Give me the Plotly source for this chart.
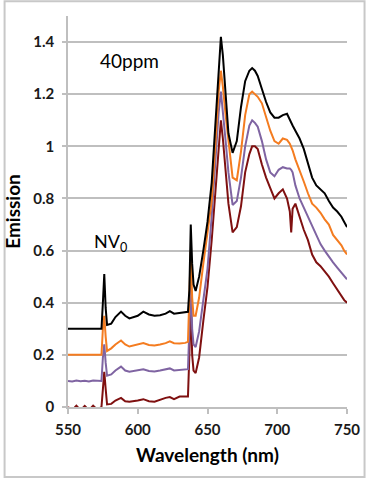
import plotly.graph_objects as go

# wavelength grid (nm)
wavelength = [550, 553, 556, 559, 562, 565, 568, 571, 574, 575, 576, 577,
              578, 581, 584, 588, 591, 594, 597, 600, 604, 608, 612, 616,
              620, 623, 626, 630, 634, 636, 637, 638, 639, 640, 641.5, 644,
              647, 650, 653, 656, 658, 659.6, 661, 663, 665, 668, 671, 674,
              677, 680, 682, 684, 686, 689, 692, 695, 698, 701, 704, 707,
              709, 710, 711, 713, 716, 719, 722, 725, 728, 731, 734, 737,
              740, 743, 746, 748, 750]

black = [0.30, 0.30, 0.30, 0.30, 0.30, 0.30, 0.30, 0.30, 0.30, 0.40, 0.51, 0.38,
         0.315, 0.32, 0.345, 0.366, 0.35, 0.34, 0.345, 0.35, 0.366, 0.355, 0.35, 0.352,
         0.358, 0.368, 0.358, 0.36, 0.362, 0.365, 0.45, 0.70, 0.55, 0.47, 0.445, 0.50,
         0.60, 0.71, 0.86, 1.11, 1.32, 1.42, 1.35, 1.18, 1.05, 0.975, 1.02, 1.15,
         1.25, 1.29, 1.30, 1.29, 1.27, 1.22, 1.17, 1.13, 1.11, 1.11, 1.12, 1.125,
         1.10, 1.09, 1.08, 1.06, 1.03, 0.99, 0.93, 0.88, 0.85, 0.835, 0.82, 0.79,
         0.765, 0.75, 0.73, 0.71, 0.69]

orange = [0.20, 0.20, 0.20, 0.20, 0.20, 0.20, 0.20, 0.20, 0.20, 0.30, 0.35, 0.27,
          0.215, 0.225, 0.24, 0.255, 0.24, 0.232, 0.236, 0.24, 0.245, 0.238, 0.236, 0.24,
          0.245, 0.252, 0.245, 0.244, 0.246, 0.25, 0.40, 0.60, 0.42, 0.35, 0.35, 0.42,
          0.55, 0.66, 0.79, 1.04, 1.21, 1.29, 1.23, 1.12, 1.02, 0.88, 0.87, 0.98,
          1.12, 1.20, 1.21, 1.20, 1.19, 1.165, 1.11, 1.06, 1.02, 1.01, 1.03, 1.025,
          1.01, 1.00, 0.985, 0.95, 0.91, 0.865, 0.82, 0.78, 0.765, 0.745, 0.72, 0.70,
          0.66, 0.64, 0.62, 0.60, 0.585]

purple = [0.10, 0.098, 0.102, 0.099, 0.101, 0.098, 0.102, 0.10, 0.10, 0.19, 0.24, 0.17,
          0.12, 0.125, 0.14, 0.155, 0.14, 0.135, 0.138, 0.142, 0.145, 0.138, 0.136, 0.14,
          0.143, 0.148, 0.14, 0.143, 0.145, 0.145, 0.30, 0.50, 0.30, 0.24, 0.23, 0.29,
          0.41, 0.53, 0.73, 0.97, 1.13, 1.21, 1.14, 1.02, 0.90, 0.775, 0.79, 0.88,
          1.00, 1.08, 1.10, 1.09, 1.075, 1.02, 0.95, 0.90, 0.885, 0.91, 0.92, 0.915,
          0.915, 0.91, 0.90, 0.85, 0.80, 0.765, 0.73, 0.69, 0.66, 0.625, 0.60, 0.575,
          0.555, 0.535, 0.515, 0.50, 0.49]

darkred = [0.0, -0.012, 0.005, -0.012, 0.004, -0.012, 0.005, -0.01, 0.0, 0.09, 0.135, 0.07,
           0.01, 0.012, 0.025, 0.035, 0.022, 0.02, 0.022, 0.025, 0.03, 0.022, 0.02, 0.028,
           0.035, 0.038, 0.03, 0.04, 0.04, 0.04, 0.20, 0.42, 0.20, 0.14, 0.13, 0.19,
           0.33, 0.46, 0.64, 0.85, 1.01, 1.10, 1.03, 0.90, 0.78, 0.67, 0.69, 0.77,
           0.90, 0.97, 1.00, 1.00, 0.99, 0.93, 0.88, 0.84, 0.80, 0.82, 0.835, 0.80,
           0.75, 0.67, 0.76, 0.78, 0.73, 0.68, 0.64, 0.585, 0.555, 0.54, 0.52, 0.50,
           0.475, 0.45, 0.43, 0.41, 0.40]

y_ticks = [0, 0.2, 0.4, 0.6, 0.8, 1.0, 1.2, 1.4]
x_ticks = [550, 600, 650, 700, 750]

# drawn bottom-up so black ends on top
series = [
    ("darkred", darkred, "#7f1010"),
    ("purple", purple, "#7f64a2"),
    ("orange", orange, "#f47c20"),
    ("black", black, "#000000"),
]

fig = go.Figure()
for name, vals, col in series:
    fig.add_trace(go.Scatter(x=wavelength, y=vals, mode="lines", name=name,
                             line=dict(color=col, width=2), showlegend=False))

grid = "#bfbfbf"
tick_font = dict(family="Lato", size=15, color="#1a1a1a", weight="bold")
title_font = dict(family="Lato", size=19, color="#000", weight="bold")

fig.update_xaxes(range=[550, 750], tickvals=x_ticks, showgrid=False,
                 showline=True, linecolor=grid, linewidth=1.5,
                 ticks="outside", ticklen=5, tickcolor=grid, tickwidth=1.5,
                 zeroline=False, tickfont=tick_font, ticklabelstandoff=3,
                 title=dict(text="Wavelength (nm)", standoff=12, font=title_font))
fig.update_yaxes(range=[0, 1.5], tickvals=y_ticks, showgrid=True, gridcolor=grid,
                 gridwidth=1.5, showline=True, linecolor=grid, linewidth=1.5,
                 ticks="outside", ticklen=4, tickcolor=grid, tickwidth=1.5,
                 zeroline=False, tickfont=tick_font, ticklabelstandoff=5,
                 title=dict(text="Emission", standoff=8, font=title_font))

fig.add_annotation(x=594, y=1.33, text="40ppm", showarrow=False,
                   font=dict(family="Lato", size=19, color="#000"))
fig.add_annotation(x=580.5, y=0.63, text="NV<sub>0</sub>", showarrow=False,
                   font=dict(family="Lato", size=18, color="#000"))

# light grey frame round the whole chart
fig.add_shape(type="rect", xref="paper", yref="paper",
              x0=-0.2273, x1=1.0629, y0=-0.179, y1=1.038,
              line=dict(color="#c8c8c8", width=2))

fig.update_layout(width=372, height=480, margin=dict(l=66, r=20, t=16, b=73),
                  paper_bgcolor="white", plot_bgcolor="white")

# page has a default 8px body margin; drop it so the chart sits at 0,0
fig.write_html("out.html", config={"displayModeBar": False},
               post_script="document.body.style.margin='0';document.body.style.overflow='hidden';")
